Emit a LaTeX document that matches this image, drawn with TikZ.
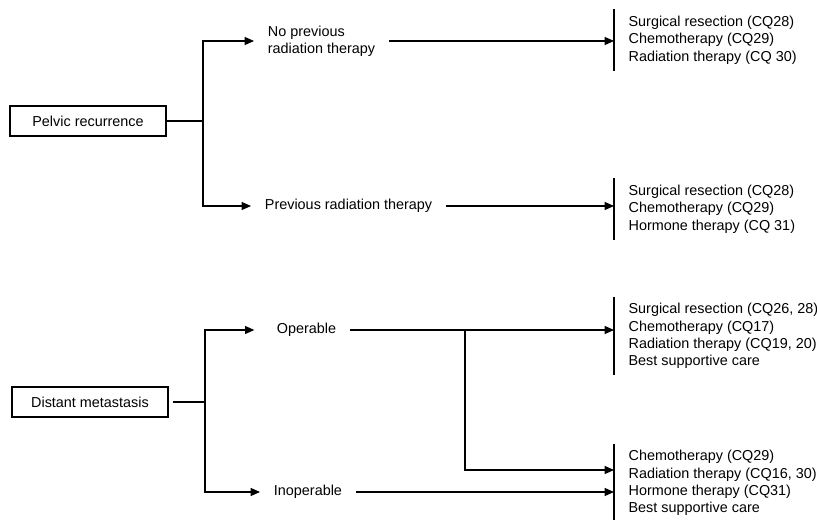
\documentclass[tikz,border=0pt]{standalone}
\usepackage{fontspec}
\setmainfont{Liberation Sans}
\usetikzlibrary{arrows.meta}

\tikzset{
  box/.style={draw, minimum width=117pt, minimum height=22.5pt, inner sep=0pt},
  lbl/.style={align=left, anchor=west, inner xsep=10pt, inner ysep=2pt},
  cqlist/.style={align=left, anchor=west, inner xsep=10.5pt, inner ysep=4.5pt},
  arr/.style={-{Triangle[length=7pt,width=6pt]}},
}

\begin{document}
\begin{tikzpicture}[x=0.75pt, y=-0.75pt, line width=0.9pt,
  font=\fontsize{10.8}{13}\selectfont]

\useasboundingbox (0,0) rectangle (817,520);

% pelvic recurrence
\node[box] (pelvic) at (88,121) {Pelvic recurrence};
\coordinate (pj) at (203,121);

\node[lbl] (noprev) at (254,41) {No previous\\radiation therapy};
\node[lbl] (prev) at (251,206) {Previous radiation therapy};

\node[cqlist] (cqa) at (614,40) {Surgical resection (CQ28)\\Chemotherapy (CQ29)\\Radiation therapy (CQ 30)};
\node[cqlist] (cqb) at (614,209) {Surgical resection (CQ28)\\Chemotherapy (CQ29)\\Hormone therapy (CQ 31)};

\draw (pelvic.east) -- (pj);
\draw[arr] (pj) |- (noprev.west);
\draw[arr] (pj) |- (prev.west);
\draw[arr] (noprev.east) -- (noprev.east -| cqa.west);
\draw[arr] (prev.east) -- (prev.east -| cqb.west);
\draw (cqa.north west) -- (cqa.south west);
\draw (cqb.north west) -- (cqb.south west);

% distant metastasis
\node[box] (distant) at (90,402) {Distant metastasis};
\coordinate (dj) at (205,402);
\coordinate (br) at (465,331);

\node[lbl] (oper) at (263,330) {Operable};
\node[lbl] (inoper) at (260,492) {Inoperable};

\node[cqlist] (cqc) at (614,336) {Surgical resection (CQ26, 28)\\Chemotherapy (CQ17)\\Radiation therapy (CQ19, 20)\\Best supportive care};
\node[cqlist] (cqd) at (614,483) {Chemotherapy (CQ29)\\Radiation therapy (CQ16, 30)\\Hormone therapy (CQ31)\\Best supportive care};

\draw ([xshift=3pt]distant.east) -- (dj);
\draw[arr, shorten >=6.5pt] (dj) |- (oper.west);
\draw[arr] (dj) |- (inoper.west);
\draw[arr] (oper.east) -- (oper.east -| cqc.west);
\draw[arr] (br) |- (br |- 0,470) -- (cqd.west |- 0,470);
\draw[arr] (inoper.east) -- (inoper.east -| cqd.west);
\draw (cqc.north west) -- (cqc.south west);
\draw (cqd.north west) -- (cqd.south west);

\end{tikzpicture}
\end{document}
